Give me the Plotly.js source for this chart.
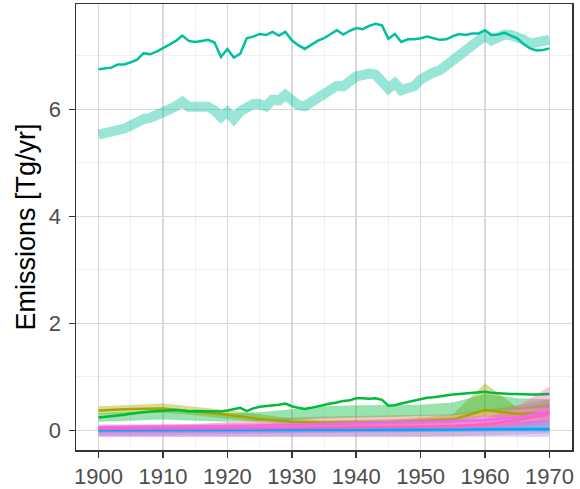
<!DOCTYPE html>
<html>
<head>
<meta charset="utf-8">
<script src="https://cdn.plot.ly/plotly-3.0.1.min.js"></script>
<style>html,body{margin:0;padding:0;background:#fff;}#chart{width:580px;height:489px;}</style>
</head>
<body>
<div id="chart"></div>
<script>
// ---------- data ----------
var years = [1900,1901,1902,1903,1904,1905,1906,1907,1908,1909,
             1910,1911,1912,1913,1914,1915,1916,1917,1918,1919,
             1920,1921,1922,1923,1924,1925,1926,1927,1928,1929,
             1930,1931,1932,1933,1934,1935,1936,1937,1938,1939,
             1940,1941,1942,1943,1944,1945,1946,1947,1948,1949,
             1950,1951,1952,1953,1954,1955,1956,1957,1958,1959,
             1960,1961,1962,1963,1964,1965,1966,1967,1968,1969,1970];
var years5 = [1900,1905,1910,1915,1920,1925,1930,1935,1940,1945,1950,1955,1960,1965,1970];

var tealLine = [6.75,6.76,6.78,6.84,6.84,6.88,6.93,7.05,7.03,7.08,
                7.14,7.21,7.28,7.38,7.28,7.26,7.28,7.30,7.25,6.98,
                7.13,6.97,7.04,7.33,7.36,7.41,7.39,7.45,7.38,7.45,
                7.29,7.20,7.13,7.20,7.28,7.33,7.40,7.48,7.40,7.47,
                7.52,7.50,7.56,7.60,7.57,7.32,7.41,7.26,7.31,7.31,
                7.33,7.36,7.33,7.30,7.31,7.37,7.41,7.39,7.42,7.42,
                7.48,7.39,7.40,7.43,7.38,7.33,7.22,7.14,7.10,7.11,7.14];
var tealBand = [5.53,5.55,5.58,5.63,5.64,5.70,5.77,5.82,5.84,5.91,
                5.96,6.00,6.06,6.14,6.05,6.04,6.06,6.05,5.98,5.86,
                5.95,5.82,5.96,6.05,6.10,6.10,6.06,6.18,6.17,6.27,
                6.16,6.08,6.06,6.14,6.22,6.28,6.38,6.44,6.43,6.53,
                6.62,6.64,6.67,6.65,6.55,6.39,6.49,6.36,6.40,6.43,
                6.56,6.64,6.69,6.73,6.82,6.92,7.03,7.11,7.20,7.29,
                7.38,7.29,7.35,7.40,7.39,7.36,7.30,7.23,7.24,7.27,7.30];
var greenLine = [0.24,0.25,0.26,0.28,0.29,0.31,0.33,0.34,0.35,0.36,
                 0.37,0.37,0.38,0.37,0.35,0.36,0.36,0.36,0.35,0.35,
                 0.37,0.39,0.42,0.36,0.41,0.44,0.45,0.46,0.48,0.50,
                 0.45,0.42,0.40,0.42,0.45,0.47,0.50,0.52,0.55,0.56,
                 0.60,0.60,0.59,0.60,0.57,0.46,0.47,0.50,0.53,0.56,
                 0.58,0.61,0.62,0.64,0.65,0.67,0.68,0.69,0.70,0.71,
                 0.72,0.70,0.69,0.69,0.68,0.68,0.67,0.67,0.67,0.68,0.68];

var oliveLine = [0.37,0.40,0.41,0.35,0.29,0.21,0.16,0.14,0.14,0.15,0.18,0.20,0.38,0.31,0.32];
var oliveLo   = [0.30,0.32,0.33,0.28,0.22,0.15,0.10,0.08,0.08,0.09,0.11,0.13,0.26,0.22,0.23];
var oliveHi   = [0.45,0.48,0.50,0.44,0.38,0.30,0.22,0.19,0.19,0.20,0.24,0.30,0.88,0.42,0.50];
var greenLo   = [0.16,0.18,0.20,0.18,0.16,0.17,0.20,0.22,0.24,0.25,0.26,0.28,0.35,0.38,0.42];
var greenHi   = [0.32,0.35,0.37,0.35,0.32,0.34,0.40,0.45,0.47,0.47,0.48,0.52,0.68,0.60,0.58];
var redLo     = [-0.12,-0.12,-0.12,-0.12,-0.12,-0.12,-0.12,-0.12,-0.12,-0.12,-0.12,-0.11,-0.10,-0.08,-0.06];
var redHi     = [0.08,0.09,0.10,0.12,0.15,0.20,0.24,0.26,0.27,0.27,0.28,0.30,0.38,0.47,0.58];
var cyanLo    = [-0.05,-0.05,-0.05,-0.05,-0.05,-0.05,-0.05,-0.04,-0.04,-0.04,-0.03,-0.03,-0.02,-0.01,0.00];
var cyanHi    = [0.05,0.05,0.05,0.05,0.05,0.06,0.06,0.06,0.07,0.07,0.08,0.09,0.10,0.15,0.20];
var blueLine  = [0.00,0.00,0.00,0.00,0.00,0.00,0.01,0.01,0.01,0.01,0.01,0.01,0.02,0.02,0.02];
var blueLo    = [-0.03,-0.03,-0.03,-0.03,-0.03,-0.03,-0.03,-0.03,-0.03,-0.03,-0.03,-0.03,-0.02,-0.02,-0.02];
var blueHi    = [0.04,0.04,0.04,0.04,0.04,0.04,0.04,0.04,0.04,0.05,0.05,0.05,0.05,0.06,0.06];
var purpleLo  = [-0.12,-0.12,-0.12,-0.12,-0.12,-0.12,-0.12,-0.12,-0.12,-0.12,-0.12,-0.12,-0.12,-0.12,-0.12];
var purpleHi  = [0.05,0.05,0.05,0.05,0.05,0.06,0.06,0.07,0.07,0.08,0.09,0.10,0.12,0.16,0.20];
var magLine   = [0.06,0.06,0.07,0.07,0.08,0.09,0.10,0.11,0.13,0.14,0.16,0.17,0.19,0.24,0.35];
var magLo     = [-0.10,-0.10,-0.09,-0.09,-0.08,-0.07,-0.06,-0.05,-0.04,-0.03,-0.02,-0.01,0.00,0.05,0.12];
var magHi     = [0.11,0.11,0.12,0.12,0.13,0.14,0.15,0.17,0.19,0.20,0.22,0.24,0.27,0.33,0.45];
var pinkLine  = [0.03,0.03,0.03,0.03,0.04,0.04,0.05,0.05,0.05,0.06,0.07,0.08,0.11,0.19,0.31];
var pinkLo    = [-0.02,-0.02,-0.02,-0.02,-0.01,-0.01,0.00,0.00,0.00,0.01,0.02,0.02,0.04,0.09,0.17];
var pinkHi    = [0.08,0.08,0.08,0.08,0.09,0.09,0.10,0.11,0.11,0.12,0.14,0.16,0.22,0.45,0.82];

var yTicks = [0,2,4,6];
var xTicks = [1900,1910,1920,1930,1940,1950,1960,1970];

// ---------- helpers ----------
function ribbon(x, lo, hi, rgb) {
  var xs = x.concat(x.slice().reverse());
  var ys = hi.concat(lo.slice().reverse());
  return {x: xs, y: ys, type: 'scatter', mode: 'lines', fill: 'toself',
          fillcolor: 'rgba(' + rgb + ',0.4)', line: {width: 0}, hoverinfo: 'skip', showlegend: false};
}
function line(x, y, color, w) {
  return {x: x, y: y, type: 'scatter', mode: 'lines', line: {color: color, width: w || 2.5},
          showlegend: false, hoverinfo: 'skip'};
}

var traces = [
  ribbon(years5, redLo, redHi, '248,118,109'),
  ribbon(years5, oliveLo, oliveHi, '163,165,0'),
  ribbon(years5, greenLo, greenHi, '0,186,56'),
  ribbon(years5, cyanLo, cyanHi, '0,191,196'),
  ribbon(years5, blueLo, blueHi, '0,169,255'),
  ribbon(years5, purpleLo, purpleHi, '149,144,255'),
  ribbon(years5, magLo, magHi, '231,107,243'),
  ribbon(years5, pinkLo, pinkHi, '255,98,188'),
  {x: years, y: tealBand, type: 'scatter', mode: 'lines',
   line: {color: 'rgba(0,192,160,0.4)', width: 10}, showlegend: false, hoverinfo: 'skip'},
  line(years5, oliveLine, '#A3A500'),
  line(years, greenLine, '#00BA38'),
  line(years, tealLine, '#00C0A0'),
  line(years5, blueLine, '#00A9FF'),
  line(years5, magLine, '#E76BF3'),
  line(years5, pinkLine, '#FF62BC')
];

var font = 'Liberation Sans, Arial, Helvetica, sans-serif';
var layout = {
  width: 580, height: 489,
  margin: {l: 76, r: 8, t: 4, b: 39},
  paper_bgcolor: '#fff', plot_bgcolor: '#fff',
  showlegend: false,
  xaxis: {
    range: [1896.5, 1973.5], tickvals: xTicks, ticktext: xTicks.map(String),
    ticks: 'outside', ticklen: 6, tickwidth: 1.5, tickcolor: '#333',
    tickfont: {family: font, size: 22, color: '#4D4D4D'},
    showgrid: true, gridcolor: '#D9D9D9', gridwidth: 1.6,
    minor: {dtick: 5, tick0: 1900, showgrid: true, gridcolor: '#EFEFEF', gridwidth: 1, ticks: ''},
    showline: true, mirror: true, linecolor: '#333', linewidth: 1.5,
    zeroline: false, automargin: false
  },
  yaxis: {
    range: [-0.368, 7.97], tickvals: yTicks, ticktext: yTicks.map(String),
    ticks: 'outside', ticklen: 6, tickwidth: 1.5, tickcolor: '#333',
    tickfont: {family: font, size: 22, color: '#4D4D4D'},
    ticklabelstandoff: 3,
    showgrid: true, gridcolor: '#D9D9D9', gridwidth: 1.6,
    minor: {dtick: 1, tick0: 0, showgrid: true, gridcolor: '#EFEFEF', gridwidth: 1, ticks: ''},
    showline: true, mirror: true, linecolor: '#333', linewidth: 1.5,
    zeroline: false, automargin: false,
    title: {text: 'Emissions [Tg/yr]', font: {family: font, size: 27, color: '#000'}, standoff: 5}
  }
};

Plotly.newPlot('chart', traces, layout, {staticPlot: true, displayModeBar: false});
</script>
</body>
</html>
